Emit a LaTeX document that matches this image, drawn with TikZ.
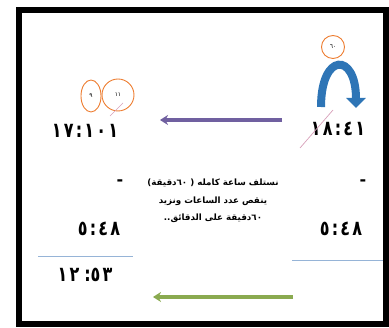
\documentclass[tikz,border=0pt]{standalone}
\usepackage{fontspec}
\TeXXeTstate=1
\newfontfamily\arabicfont[Script=Arabic]{DejaVu Sans}
\newfontfamily\numfont[Script=Arabic,LetterSpace=14]{DejaVu Sans}
\usepackage{tikz}
\usetikzlibrary{arrows.meta,shapes.geometric,positioning}
\definecolor{clkblue}{RGB}{46,117,182}
\definecolor{clkorange}{RGB}{237,125,49}
\definecolor{clkpurple}{RGB}{112,96,160}
\definecolor{clkgreen}{RGB}{138,170,80}
\definecolor{clkline}{RGB}{150,180,215}
\definecolor{clkpink}{RGB}{215,160,185}
\newcommand{\tallnum}[1]{\scalebox{1}[1.3]{#1}}
\tikzstyle{arrow} = [line width=3.5pt,-{Stealth[length=8pt,width=10pt]}]
\tikzstyle{num} = [inner sep=0pt, font=\numfont\bfseries\fontsize{16}{16}\selectfont]
\tikzstyle{ring} = [draw=clkorange, line width=0.9pt, inner sep=0pt, font=\arabicfont\fontsize{6}{6}\selectfont]
\tikzstyle{sumline} = [draw=clkline, line width=1pt]
\tikzstyle{slash} = [draw=clkpink, line width=0.7pt]

\begin{document}
\begin{tikzpicture}[x=1pt, y=-1pt]
    \useasboundingbox (0,0) rectangle (389,328);
    % Frame
    \draw[line width=6pt] (18.5,10) rectangle (386,324);

    % Borrowing an hour
    \node[ring, circle, minimum size=23pt] (c60) at (333,47) {٦٠};
    \coordinate (b1) at (321,107);
    \coordinate (b2) at (356,108);
    \draw[clkblue, line width=8pt, -{Triangle[length=10pt,width=19pt]}] (b1) .. controls (321,52) and (356,52) .. (b2);

    % Top numbers
    \node[num] (t18) at (338,129) {\tallnum{١٨:٤١}};
    \node[num] (t17) at (85,131) {\tallnum{١٧:١٠١}};
    \node[ring, ellipse, minimum width=20pt, minimum height=32pt] (c9) at (91,96) {٩};
    \node[ring, circle, minimum size=32pt] (c11) at (118,95) {١١};

    \coordinate (k1) at (300,148);
    \coordinate (k2) at (333,110);
    \draw[slash] (k1) -- (k2);
    \coordinate (k3) at (110,116);
    \coordinate (k4) at (123,103);
    \draw[slash] (k3) -- (k4);

    \coordinate (pa1) at (282,120);
    \coordinate (pa2) at (160,120);
    \draw[arrow, clkpurple] (pa1) -- (pa2);

    % Subtraction
    \node[num] (m1) at (120,183) {-};
    \node[num] (m2) at (363,183) {-};
    \node[num] (s1) at (99,229) {\tallnum{٥:٤٨}};
    \node[num] (s2) at (341,229) {\tallnum{٥:٤٨}};

    \coordinate (u1) at (38,257);
    \coordinate (u2) at (133,257);
    \draw[sumline] (u1) -- (u2);
    \coordinate (u3) at (292,261);
    \coordinate (u4) at (383,261);
    \draw[sumline] (u3) -- (u4);

    \node[num] (r1) at (85,275) {\tallnum{\beginR\beginL\hbox{١٢}\hspace{5pt}\hbox{:}\hbox{٥٣}\endL\endR}};

    \coordinate (ga1) at (293,297);
    \coordinate (ga2) at (153,297);
    \draw[arrow, clkgreen] (ga1) -- (ga2);

    % Note
    \node[align=center, inner sep=0pt, font=\arabicfont\bfseries\fontsize{8.7}{17.5}\selectfont] (note) at (213,201)
        {\beginR نستلف ساعة كامله ( ٦٠دقيقة)\endR\\\beginR ينقص عدد الساعات ونزيد\endR\\\beginR ٦٠دقيقة على الدقائق..\endR};
\end{tikzpicture}
\end{document}
